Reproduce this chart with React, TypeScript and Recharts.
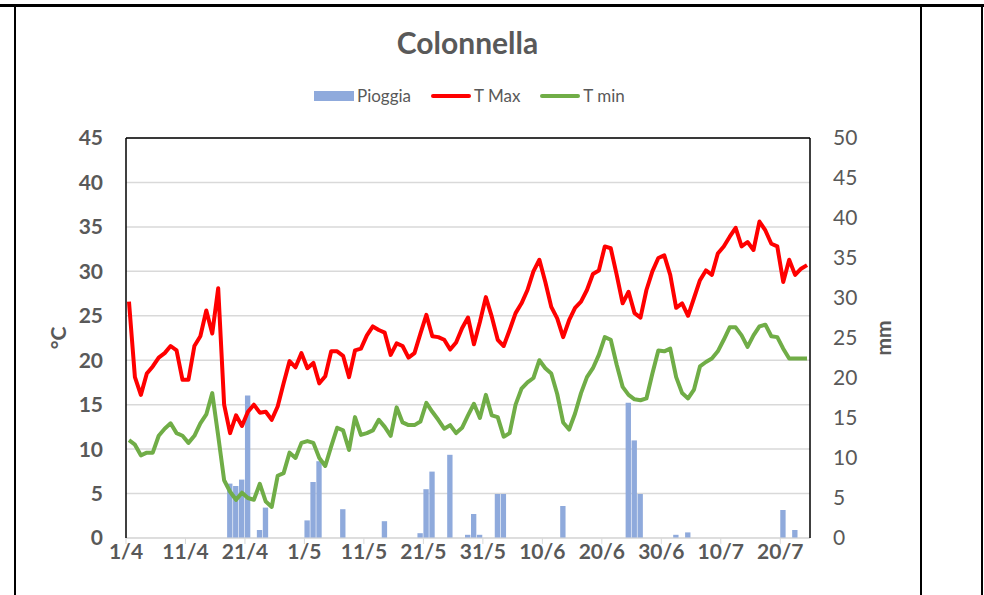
import React from 'react';
import {
  ComposedChart,
  Bar,
  Line,
  XAxis,
  YAxis,
  CartesianGrid,
  ReferenceLine
} from 'recharts';

// daily values from 1/4 to 24/7
const tMax = [
  26.6, 18.1, 16.1, 18.5, 19.3, 20.3, 20.8, 21.6, 21.1, 17.8,
  17.8, 21.6, 22.7, 25.6, 23.0, 28.1, 15.0, 11.8, 13.8, 12.6,
  14.2, 15.0, 14.1, 14.2, 13.3, 14.8, 17.4, 19.9, 19.2, 20.8,
  19.1, 19.7, 17.4, 18.2, 21.0, 21.0, 20.5, 18.1, 21.1, 21.3,
  22.8, 23.8, 23.4, 23.1, 20.6, 21.9, 21.6, 20.3, 20.8, 23.0,
  25.1, 22.7, 22.6, 22.3, 21.2, 22.0, 23.6, 24.8, 21.8, 24.3,
  27.1, 24.9, 22.3, 21.6, 23.4, 25.3, 26.4, 27.9, 30.0, 31.3,
  28.8, 26.0, 24.7, 22.6, 24.5, 25.9, 26.6, 27.9, 29.7, 30.1,
  32.8, 32.6, 29.6, 26.4, 27.7, 25.3, 24.8, 27.9, 30.0, 31.5,
  31.8, 29.6, 25.9, 26.4, 25.0, 27.0, 29.0, 30.1, 29.6, 32.0,
  32.8, 33.9, 34.9, 32.8, 33.3, 32.4, 35.6, 34.6, 33.1, 32.8,
  28.8, 31.3, 29.6, 30.3, 30.7
];

const tMin = [
  11.0, 10.5, 9.3, 9.6, 9.6, 11.5, 12.3, 12.9, 11.8, 11.5,
  10.7, 11.5, 12.9, 13.9, 16.3, 11.5, 6.5, 5.2, 4.3, 5.1,
  4.5, 4.3, 6.1, 4.1, 3.5, 7.0, 7.3, 9.6, 9.0, 10.7,
  10.9, 10.7, 9.0, 8.1, 10.3, 12.4, 12.1, 9.9, 13.6, 11.6,
  11.8, 12.1, 13.3, 12.5, 11.5, 14.7, 13.0, 12.7, 12.7, 13.1,
  15.2, 14.2, 13.3, 12.3, 12.7, 11.8, 12.4, 13.8, 15.1, 13.5,
  16.1, 13.8, 13.6, 11.4, 11.8, 15.0, 16.8, 17.5, 18.0, 20.0,
  19.1, 18.5, 16.2, 13.0, 12.2, 14.0, 16.3, 18.1, 19.1, 20.6,
  22.6, 22.3, 19.5, 17.0, 16.1, 15.6, 15.5, 15.7, 18.5, 21.1,
  21.0, 21.3, 18.1, 16.3, 15.7, 16.7, 19.3, 19.8, 20.2, 21.0,
  22.3, 23.7, 23.7, 22.8, 21.5, 22.8, 23.8, 24.0, 22.7, 22.6,
  21.3, 20.2, 20.2, 20.2, 20.2
];

const rain = [
  0, 0, 0, 0, 0, 0, 0, 0, 0, 0,
  0, 0, 0, 0, 0, 0, 0, 6.8, 6.5, 7.3,
  17.8, 0, 1.0, 3.8, 0, 0, 0, 0, 0, 0,
  2.2, 7.0, 9.6, 0, 0, 0, 3.6, 0, 0, 0,
  0, 0, 0, 2.1, 0, 0, 0, 0, 0, 0.6,
  6.1, 8.3, 0, 0, 10.4, 0, 0, 0.4, 3.0, 0.4,
  0, 0, 5.5, 5.5, 0, 0, 0, 0, 0, 0,
  0, 0, 0, 4.0, 0, 0, 0, 0, 0, 0,
  0, 0, 0, 0, 16.9, 12.2, 5.5, 0, 0, 0,
  0, 0, 0.4, 0, 0.7, 0, 0, 0, 0, 0,
  0, 0, 0, 0, 0, 0, 0, 0, 0, 0,
  3.5, 0, 1.0, 0, 0
];

const tickDays = [0, 10, 20, 30, 40, 50, 60, 70, 80, 90, 100, 110];
const tickLabels = ['1/4', '11/4', '21/4', '1/5', '11/5', '21/5', '31/5', '10/6', '20/6', '30/6', '10/7', '20/7'];
const tempTicks = [0, 5, 10, 15, 20, 25, 30, 35, 40, 45];
const rainTicks = [0, 5, 10, 15, 20, 25, 30, 35, 40, 45, 50];

const data = tMax.map((v, i) => ({
  x: i + 0.5,
  tmax: v,
  tmin: tMin[i],
  rain: rain[i]
}));

const FONT = 'Lato, "Open Sans", sans-serif';
const GREY = '#595959';

const legendItems = [
  { name: 'Pioggia', color: '#8FAADC', kind: 'bar' },
  { name: 'T Max', color: '#FF0000', kind: 'line' },
  { name: 'T min', color: '#70AD47', kind: 'line' }
];

export default function App() {
  return (
    <div style={{ position: 'relative', width: 984, height: 595, background: '#fff', fontFamily: FONT }}>
      <style>{'body{margin:0}'}</style>

      {/* sheet borders */}
      <div style={{ position: 'absolute', left: 0, top: 4, width: 984, height: 3, background: '#000' }} />
      <div style={{ position: 'absolute', left: 14, top: 4, width: 2, height: 591, background: '#000' }} />
      <div style={{ position: 'absolute', left: 920, top: 4, width: 2, height: 591, background: '#000' }} />
      <div style={{ position: 'absolute', left: 981, top: 4, width: 2, height: 591, background: '#000' }} />

      <div style={{ position: 'absolute', left: 15, width: 905, top: 24, textAlign: 'center', fontSize: 30, fontWeight: 700, color: GREY }}>
        Colonnella
      </div>

      <div style={{ position: 'absolute', left: 314, top: 85, display: 'flex', alignItems: 'center', fontSize: 17, color: GREY }}>
        {legendItems.map((it, i) => (
          <div key={it.name} style={{ display: 'flex', alignItems: 'center', marginRight: i < legendItems.length - 1 ? 20 : 0 }}>
            <div
              style={{
                width: 40,
                height: it.kind === 'bar' ? 10 : 4,
                borderRadius: it.kind === 'bar' ? 0 : 2,
                background: it.color,
                marginRight: 3
              }}
            />
            <span>{it.name}</span>
          </div>
        ))}
      </div>

      <div style={{ position: 'absolute', left: 57, top: 338, transform: 'translate(-50%, -50%) rotate(-90deg)', fontSize: 21, fontWeight: 700, color: GREY }}>
        °C
      </div>
      <div style={{ position: 'absolute', left: 882, top: 338, transform: 'translate(-50%, -50%) rotate(-90deg)', fontSize: 21, fontWeight: 700, color: GREY }}>
        mm
      </div>

      <div style={{ position: 'absolute', left: 0, top: 0 }}>
        <ComposedChart width={984} height={595} data={data} margin={{ top: 138, right: 114, bottom: 17, left: 66 }}>
          <CartesianGrid yAxisId="left" vertical={false} stroke="#D9D9D9" strokeWidth={1.5} />
          <XAxis
            dataKey="x"
            type="number"
            domain={[0, 115]}
            ticks={tickDays}
            interval={0}
            allowDataOverflow
            height={40}
            stroke="#D9D9D9"
            tickLine={{ stroke: '#D9D9D9' }}
            tickSize={6}
            tickMargin={0}
            tickFormatter={(v: number) => tickLabels[tickDays.indexOf(v)]}
            tick={{ fill: GREY, fontSize: 21, fontWeight: 700, fontFamily: FONT }}
          />
          <YAxis
            yAxisId="left"
            domain={[0, 45]}
            ticks={tempTicks}
            width={60}
            axisLine={{ stroke: '#000', strokeWidth: 1.5 }}
            tickLine={false}
            tickMargin={17}
            tick={{ fill: GREY, fontSize: 21, fontWeight: 700, fontFamily: FONT }}
          />
          <YAxis
            yAxisId="right"
            orientation="right"
            domain={[0, 50]}
            ticks={rainTicks}
            width={60}
            axisLine={{ stroke: '#000', strokeWidth: 1.5 }}
            tickLine={false}
            tickMargin={17}
            tick={{ fill: GREY, fontSize: 21, fontFamily: FONT }}
          />
          <ReferenceLine yAxisId="left" y={45} stroke="#000" strokeWidth={1.5} />
          <Bar yAxisId="right" dataKey="rain" name="Pioggia" fill="#8FAADC" barSize={6} isAnimationActive={false} />
          <Line
            yAxisId="left"
            type="linear"
            dataKey="tmax"
            name="T Max"
            stroke="#FF0000"
            strokeWidth={4}
            strokeLinejoin="round"
            dot={false}
            activeDot={false}
            isAnimationActive={false}
          />
          <Line
            yAxisId="left"
            type="linear"
            dataKey="tmin"
            name="T min"
            stroke="#70AD47"
            strokeWidth={4}
            strokeLinejoin="round"
            dot={false}
            activeDot={false}
            isAnimationActive={false}
          />
        </ComposedChart>
      </div>
    </div>
  );
}
